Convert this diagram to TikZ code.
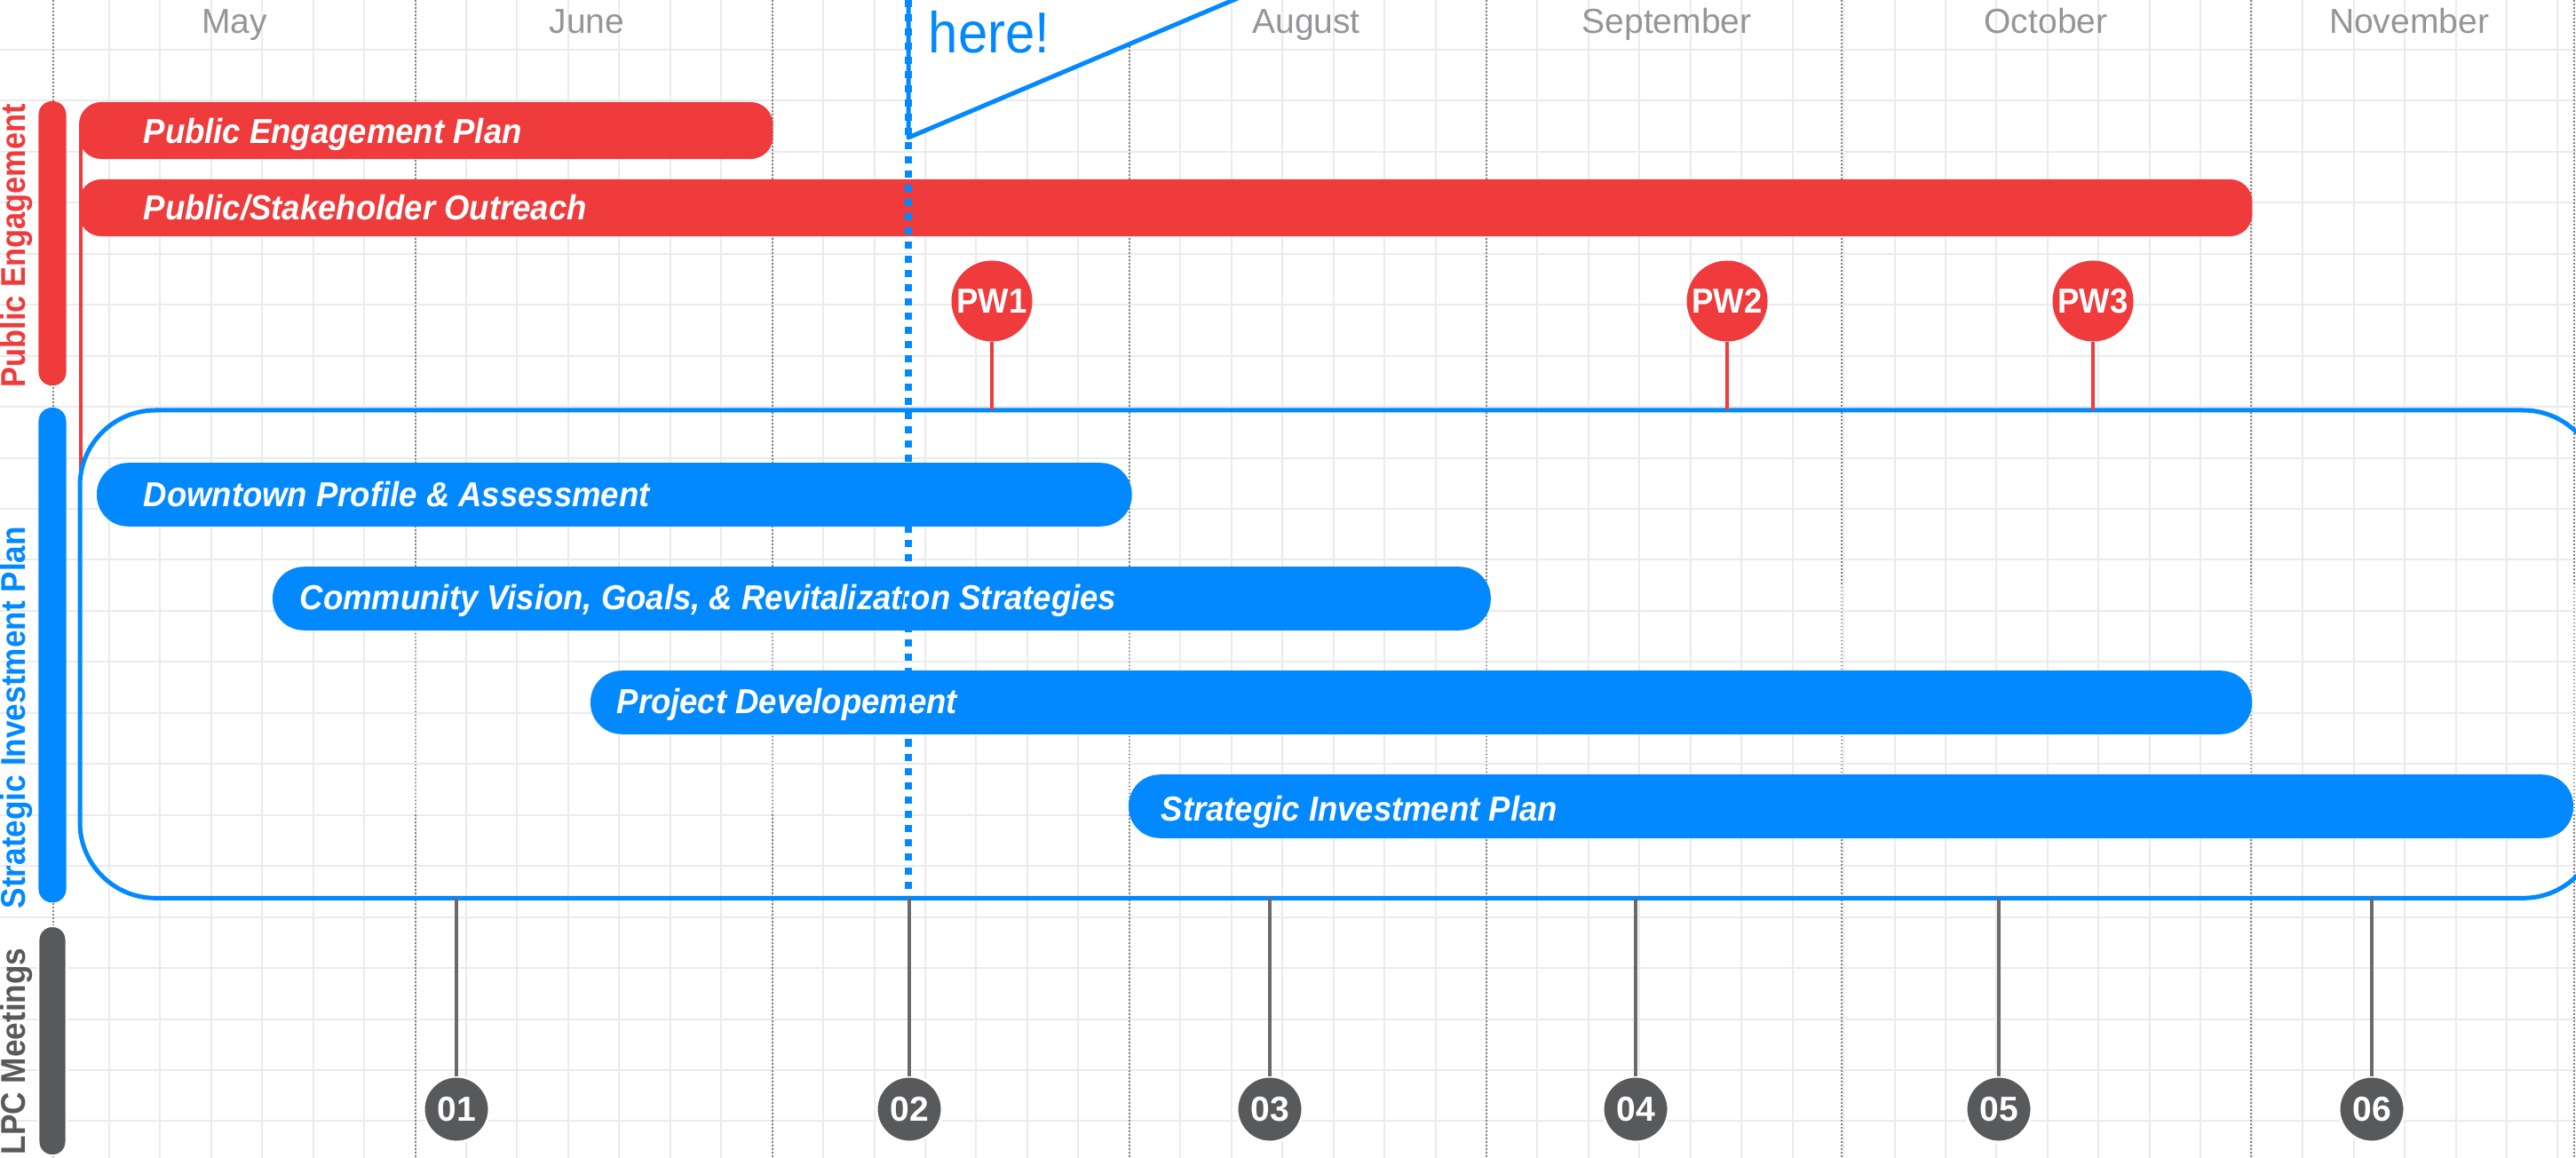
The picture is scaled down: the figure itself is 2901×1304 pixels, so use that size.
\documentclass[tikz,border=0pt]{standalone}
\usepackage{fontspec}
\setmainfont{Liberation Sans}
\newfontfamily\barfont[FakeStretch=0.935]{Liberation Sans}
\newfontfamily\sidefont[FakeStretch=0.89]{Liberation Sans}
\newfontfamily\sidewidefont[FakeStretch=0.91]{Liberation Sans}
\newfontfamily\herefont[FakeStretch=0.92]{Liberation Sans}
\definecolor{pered}{HTML}{EF3B3C}
\definecolor{sipblue}{HTML}{0389FF}
\definecolor{lpcgray}{HTML}{58595B}
\definecolor{monthgray}{HTML}{939598}
\definecolor{gridgray}{HTML}{EBEBEB}
\definecolor{dotgray}{HTML}{808285}
\tikzset{
  gridline/.style={gridgray, line width=0.02cm},
  monthline/.style={dotgray, line width=0.018cm, dash pattern=on 0.018cm off 0.022cm},
  monthlabel/.style={anchor=base, inner sep=0pt, text=monthgray, font=\fontsize{11.1pt}{13pt}\selectfont},
  bar/.style={anchor=west, inner sep=0pt, outer sep=0pt, minimum height=#1},
  redbar/.style={bar=0.64cm, fill=pered, rounded corners=0.25cm},
  bluebar/.style={bar=0.715cm, fill=sipblue, rounded corners=0.35cm},
  barlabel/.style={anchor=base west, inner sep=0pt, text=white, font=\barfont\fontsize{11.1pt}{13pt}\selectfont\bfseries\itshape},
  sidebar/.style={anchor=north, inner sep=0pt, outer sep=0pt, minimum width=0.31cm, rounded corners=0.15cm},
  sidelabel/.style={rotate=90, anchor=base west, inner sep=0pt, font=\sidefont\fontsize{11pt}{13pt}\selectfont\bfseries},
  sidewidelabel/.style={sidelabel, font=\sidewidefont\fontsize{11pt}{13pt}\selectfont\bfseries},
  pwtag/.style={circle, fill=pered, inner sep=0pt, outer sep=0pt, minimum size=0.91cm, text=white, font=\barfont\fontsize{11.1pt}{13pt}\selectfont\bfseries},
  pwline/.style={pered, line width=0.032cm},
  lpctag/.style={circle, fill=lpcgray, draw=white, line width=0.03cm, inner sep=0pt, outer sep=0pt, minimum size=0.74cm, text=white, font=\fontsize{11.1pt}{13pt}\selectfont\bfseries},
  lpcline/.style={lpcgray!90!white, line width=0.035cm},
}
\begin{document}
\begin{tikzpicture}[x=0.01cm, y=-0.01cm]
  \useasboundingbox (0, 0) rectangle (2901, 1304);
  \clip (0, 0) rectangle (2901, 1304);
  % grid
  \foreach \gx in {122.8,180.25,...,2900} \draw[gridline] (\gx, 0) -- (\gx, 1304);
  \foreach \gy in {56,113.45,...,1304} \draw[gridline] (0, \gy) -- (2901, \gy);
  \foreach \mx in {59.6,468,870,1272,1674,2074,2535,2899} \draw[monthline] (\mx, 0) -- (\mx, 1304);
  % months
  \node[monthlabel] (may) at (264, 38) {May};
  \node[monthlabel] (june) at (661, 38) {June};
  \node[monthlabel] (august) at (1471, 38) {August};
  \node[monthlabel] (september) at (1877, 38) {September};
  \node[monthlabel] (october) at (2304, 38) {October};
  \node[monthlabel] (november) at (2713, 38) {November};
  % public engagement
  \coordinate (redend) at (91, 530);
  \node[sidebar, fill=pered, minimum height=3.2cm] (pebar) at (59, 114) {};
  \node[sidelabel, text=pered] (pelabel) at (28, 437) {Public Engagement};
  \node[redbar, minimum width=7.81cm] (plan) at (89, 147) {};
  \draw[pwline] (plan.west -| redend) -- (redend);
  \node[redbar, minimum width=24.46cm] (outreach) at (89, 234) {};
  \node[barlabel] (planlabel) at (161, 162) {Public Engagement Plan};
  \node[barlabel] (outreachlabel) at (161, 248) {Public/Stakeholder Outreach};
  % strategic investment plan
  \node[sidebar, fill=sipblue, minimum height=5.57cm] (sipbar) at (59, 459) {};
  \node[sidewidelabel, text=sipblue] (siplabel) at (28, 1024) {Strategic Investment Plan};
  \node[draw=sipblue, line width=0.05cm, rounded corners=0.85cm, inner sep=0pt, outer sep=0pt, minimum width=28.35cm, minimum height=5.49cm, anchor=north west] (planbox) at (90, 462) {};
  \node[bluebar, minimum width=11.65cm] (profile) at (109, 557) {};
  \node[bluebar, minimum width=13.71cm] (vision) at (307, 674) {};
  \node[bluebar, minimum width=18.70cm] (project) at (665, 791) {};
  \node[bluebar, minimum width=16.26cm] (strategy) at (1271, 908) {};
  \node[barlabel] (profilelabel) at (161, 571) {Downtown Profile \& Assessment};
  \node[barlabel] (visionlabel) at (337, 687) {Community Vision, Goals, \& Revitalization Strategies};
  \node[barlabel] (projectlabel) at (694, 804) {Project Developement};
  \node[barlabel] (strategylabel) at (1307, 924) {Strategic Investment Plan};
  % you are here
  \coordinate (heretop) at (1023, 0);
  \coordinate (heretip) at (1023, 155);
  \coordinate (hereend) at (1434, -19);
  \draw[sipblue, line width=0.05cm, fill=white, line join=round] (1023, -19) -- (heretip) -- (hereend);
  \node[anchor=base west, inner sep=0pt, text=sipblue, font=\herefont\fontsize{18.5pt}{20pt}\selectfont] (herelabel) at (1045, 60) {here!};
  \draw[sipblue, line width=0.08cm, dash pattern=on 0.08cm off 0.08cm] (heretop) -- (heretop |- planbox.south);
  % public workshops
  \node[pwtag] (pw1) at (1117, 339) {PW1};
  \node[pwtag] (pw2) at (1945, 339) {PW2};
  \node[pwtag] (pw3) at (2357, 339) {PW3};
  \draw[pwline] (pw1) -- (pw1 |- planbox.north);
  \draw[pwline] (pw2) -- (pw2 |- planbox.north);
  \draw[pwline] (pw3) -- (pw3 |- planbox.north);
  % lpc meetings
  \node[sidebar, fill=lpcgray, draw=white, line width=0.02cm, minimum height=2.58cm] (lpcbar) at (59, 1043) {};
  \node[sidewidelabel, text=lpcgray] (lpclabel) at (28, 1301) {LPC Meetings};
  \node[lpctag] (m1) at (514, 1249) {01};
  \node[lpctag] (m2) at (1024, 1249) {02};
  \node[lpctag] (m3) at (1430, 1249) {03};
  \node[lpctag] (m4) at (1842, 1249) {04};
  \node[lpctag] (m5) at (2251, 1249) {05};
  \node[lpctag] (m6) at (2671, 1249) {06};
  \foreach \m in {m1,m2,m3,m4,m5,m6} \draw[lpcline] (\m) -- (\m |- planbox.south);
\end{tikzpicture}
\end{document}
